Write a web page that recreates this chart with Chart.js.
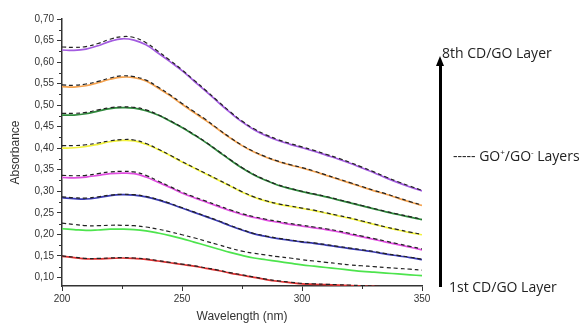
<!DOCTYPE html>
<html>
<head>
<meta charset="utf-8">
<script src="https://cdn.jsdelivr.net/npm/chart.js@4.4.1/dist/chart.umd.min.js"></script>
<style>
  html, body { margin: 0; padding: 0; background: #fff; }
  #wrap { position: relative; width: 585px; height: 324px; overflow: hidden; }
  #c { position: absolute; left: 0; top: 0; }
  .note { position: absolute; font-family: "Open Sans", "Liberation Sans", sans-serif; font-size: 14px; color: #222; white-space: nowrap; line-height: 16px; }
  .note sup { font-size: 8px; vertical-align: 6px; line-height: 0; }
  #arrowLine { position: absolute; left: 439px; top: 64px; width: 3px; height: 223px; background: #000; }
  #arrowHead { position: absolute; left: 436px; top: 56px; width: 0; height: 0; border-left: 4.5px solid transparent; border-right: 4.5px solid transparent; border-bottom: 10px solid #000; }
</style>
</head>
<body>
<div id="wrap">
  <canvas id="c" width="585" height="324"></canvas>
  <div class="note" style="left:442px; top:45px;">8th CD/GO Layer</div>
  <div id="arrowHead"></div>
  <div id="arrowLine"></div>
  <div class="note" style="left:453px; top:148px;">----- GO<sup>+</sup>/GO<sup>-</sup> Layers</div>
  <div class="note" style="left:449px; top:279px;">1st CD/GO Layer</div>
</div>
<script>
// ---- data ----
const wavelengths = [200,205,210,215,220,225,230,235,240,245,250,255,260,265,270,275,280,285,290,295,300,305,310,315,320,325,330,335,340,345,350];

const layer1Red     = [.149,.146,.143,.143,.144,.145,.144,.142,.138,.134,.130,.126,.121,.116,.110,.105,.100,.095,.091,.088,.085,.084,.083,.082,.081,.080,.079,.077,.076,.074,.072];
const layer2Green   = [.213,.211,.209,.210,.212,.212,.211,.208,.203,.197,.190,.182,.174,.166,.158,.151,.145,.141,.137,.133,.129,.126,.123,.120,.117,.114,.112,.110,.108,.106,.104];
const layer3Blue    = [.285,.283,.282,.285,.290,.292,.291,.287,.280,.271,.261,.251,.241,.231,.220,.210,.201,.195,.190,.186,.182,.179,.175,.171,.167,.163,.159,.154,.150,.146,.141];
const layer4Magenta = [.332,.331,.333,.337,.341,.342,.341,.333,.321,.309,.296,.285,.275,.265,.255,.246,.239,.233,.228,.223,.219,.215,.211,.206,.200,.194,.188,.182,.176,.170,.164];
const layer5Yellow  = [.400,.401,.404,.409,.415,.418,.417,.409,.397,.383,.368,.354,.340,.326,.312,.298,.286,.277,.270,.265,.260,.255,.249,.243,.237,.230,.223,.216,.210,.204,.199];
const layer6Olive   = [.477,.477,.480,.486,.492,.494,.493,.487,.477,.463,.448,.431,.413,.393,.373,.354,.338,.325,.314,.306,.299,.293,.287,.280,.273,.266,.259,.252,.246,.240,.234];
const layer7Orange  = [.543,.542,.545,.552,.560,.565,.564,.556,.540,.522,.502,.483,.464,.444,.424,.406,.391,.379,.369,.361,.354,.346,.337,.328,.319,.310,.301,.293,.284,.275,.267];
const layer8Purple  = [.628,.627,.630,.638,.648,.654,.651,.640,.621,.601,.580,.556,.532,.507,.483,.461,.443,.429,.418,.409,.401,.393,.384,.375,.365,.354,.343,.331,.320,.310,.301];

const go1 = [.150,.147,.144,.144,.145,.146,.145,.143,.139,.135,.131,.127,.122,.117,.111,.106,.101,.096,.092,.089,.086,.085,.084,.083,.082,.081,.080,.078,.076,.075,.073];
const go2 = [.226,.223,.220,.220,.221,.221,.220,.217,.212,.206,.199,.192,.184,.176,.168,.161,.156,.152,.148,.145,.141,.138,.135,.132,.129,.127,.125,.123,.121,.119,.117];
const go3 = [.287,.285,.284,.287,.291,.293,.292,.288,.281,.272,.262,.252,.242,.232,.221,.211,.202,.196,.191,.187,.183,.180,.176,.172,.168,.164,.160,.155,.151,.147,.142];
const go4 = [.337,.336,.337,.341,.345,.346,.345,.337,.324,.311,.298,.287,.277,.267,.257,.248,.241,.235,.230,.225,.221,.217,.213,.208,.202,.196,.190,.184,.178,.172,.166];
const go5 = [.406,.406,.408,.412,.417,.420,.419,.411,.398,.384,.369,.355,.341,.327,.313,.299,.287,.278,.271,.266,.261,.256,.250,.244,.238,.231,.224,.217,.211,.205,.200];
const go6 = [.481,.481,.483,.489,.494,.496,.495,.489,.478,.464,.449,.432,.414,.394,.374,.355,.339,.326,.315,.307,.300,.294,.288,.281,.274,.267,.260,.253,.247,.241,.235];
const go7 = [.547,.546,.549,.555,.563,.568,.566,.558,.542,.524,.504,.485,.466,.445,.425,.407,.392,.380,.370,.362,.355,.347,.338,.329,.320,.311,.302,.294,.285,.276,.268];
const go8 = [.635,.634,.636,.643,.653,.659,.657,.645,.625,.604,.582,.558,.534,.509,.485,.463,.445,.431,.420,.411,.403,.395,.386,.377,.367,.356,.345,.333,.322,.312,.302];

const solidSeries = [layer1Red, layer2Green, layer3Blue, layer4Magenta, layer5Yellow, layer6Olive, layer7Orange, layer8Purple];
const solidColors = ['#e03232', '#4de44d', '#3a3ab4', '#e04ee0', '#f2f23c', '#2f8a3c', '#f5a24e', '#a35be0'];
const dashedSeries = [go1, go2, go3, go4, go5, go6, go7, go8];

const xTicks = [200, 250, 300, 350];
const xMinorTicks = [225, 275, 325];
const yTicks = [0.10, 0.15, 0.20, 0.25, 0.30, 0.35, 0.40, 0.45, 0.50, 0.55, 0.60, 0.65, 0.70];
const yMinorTicks = [0.125, 0.175, 0.225, 0.275, 0.325, 0.375, 0.425, 0.475, 0.525, 0.575, 0.625, 0.675];

// ---- build datasets ----
const toPts = arr => arr.map((v, i) => ({ x: wavelengths[i], y: v }));
const datasets = [];
dashedSeries.forEach(s => datasets.push({
  data: toPts(s), borderColor: '#222', borderWidth: 1.2, borderDash: [4, 3],
  pointRadius: 0, tension: 0.4, fill: false
}));
solidSeries.forEach((s, i) => datasets.push({
  data: toPts(s), borderColor: solidColors[i], borderWidth: 1.7,
  pointRadius: 0, tension: 0.4, fill: false
}));

const minorTicks = {
  id: 'minorTicks',
  afterDraw(chart) {
    const ctx = chart.ctx, xs = chart.scales.x, ys = chart.scales.y;
    const a = chart.chartArea;
    ctx.save();
    ctx.strokeStyle = '#333';
    ctx.lineWidth = 1;
    ctx.beginPath();
    yMinorTicks.forEach(v => {
      const y = Math.round(ys.getPixelForValue(v)) + 0.5;
      ctx.moveTo(a.left - 3, y); ctx.lineTo(a.left, y);
    });
    xMinorTicks.forEach(v => {
      const x = Math.round(xs.getPixelForValue(v)) + 0.5;
      ctx.moveTo(x, a.bottom); ctx.lineTo(x, a.bottom + 3);
    });
    ctx.stroke();
    ctx.restore();
  }
};

const tickFont = { family: '"Liberation Sans", Arial, sans-serif', size: 10 };
const titleFont = { family: '"Liberation Sans", Arial, sans-serif', size: 12 };

new Chart(document.getElementById('c'), {
  type: 'line',
  data: { datasets },
  plugins: [minorTicks],
  options: {
    responsive: false,
    devicePixelRatio: 1,
    animation: false,
    layout: { padding: { top: 19, right: 163, left: 0, bottom: 0 } },
    plugins: { legend: { display: false }, tooltip: { enabled: false } },
    scales: {
      x: {
        type: 'linear', min: 200, max: 350,
        afterBuildTicks: s => { s.ticks = xTicks.map(v => ({ value: v })); },
        afterFit: s => { s.height = 38; },
        ticks: { font: tickFont, color: '#333', padding: 2, maxRotation: 0, callback: v => String(v) },
        grid: { drawOnChartArea: false, drawTicks: true, tickLength: 5, color: '#333' },
        border: { display: true, color: '#333', width: 1.5 },
        title: { display: true, text: 'Wavelength (nm)', font: titleFont, color: '#333', padding: 0 }
      },
      y: {
        type: 'linear', min: 0.08, max: 0.70,
        afterBuildTicks: s => { s.ticks = yTicks.map(v => ({ value: v })); },
        afterFit: s => { s.width = 62; },
        ticks: { font: tickFont, color: '#333', padding: 3, callback: v => Number(v).toFixed(2).replace('.', ',') },
        grid: { drawOnChartArea: false, drawTicks: true, tickLength: 5, color: '#333' },
        border: { display: true, color: '#333', width: 1.5 },
        title: { display: true, text: 'Absorbance', font: titleFont, color: '#333', padding: { top: 8, bottom: 0 } }
      }
    }
  }
});
</script>
</body>
</html>
